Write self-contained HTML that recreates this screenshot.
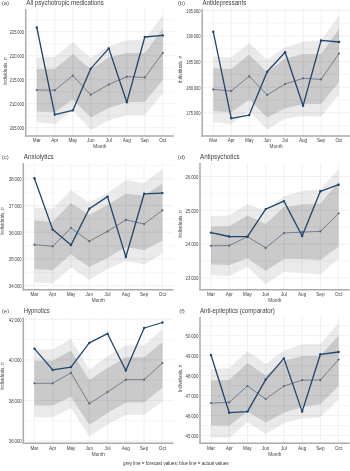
<!DOCTYPE html>
<html><head><meta charset="utf-8"><style>
html,body{margin:0;padding:0;background:#fff;}
body{width:350px;height:471px;overflow:hidden;}
svg{display:block;will-change:transform;filter:blur(0.3px);}
text{font-family:"Liberation Sans", sans-serif;}
.tk{font-size:4.6px;fill:#3d3d3d;}
.ax{font-size:4.7px;fill:#3d3d3d;}
.tag{font-size:6px;fill:#505050;}
.ttl{font-size:6.4px;fill:#404040;}
.cap{font-size:4.7px;fill:#333;}
</style></head><body>
<svg width="350" height="471" viewBox="0 0 350 471">
<rect width="350" height="471" fill="#fff"/>
<line x1="25.7" y1="19.7" x2="174" y2="19.7" stroke="#ececec" stroke-width="0.5"/>
<line x1="25.7" y1="43.7" x2="174" y2="43.7" stroke="#ececec" stroke-width="0.5"/>
<line x1="25.7" y1="67.7" x2="174" y2="67.7" stroke="#ececec" stroke-width="0.5"/>
<line x1="25.7" y1="91.7" x2="174" y2="91.7" stroke="#ececec" stroke-width="0.5"/>
<line x1="25.7" y1="115.7" x2="174" y2="115.7" stroke="#ececec" stroke-width="0.5"/>
<line x1="25.7" y1="31.7" x2="174" y2="31.7" stroke="#ececec" stroke-width="0.8"/>
<line x1="25.7" y1="55.7" x2="174" y2="55.7" stroke="#ececec" stroke-width="0.8"/>
<line x1="25.7" y1="79.7" x2="174" y2="79.7" stroke="#ececec" stroke-width="0.8"/>
<line x1="25.7" y1="103.7" x2="174" y2="103.7" stroke="#ececec" stroke-width="0.8"/>
<line x1="25.7" y1="127.7" x2="174" y2="127.7" stroke="#ececec" stroke-width="0.8"/>
<line x1="36.8" y1="9" x2="36.8" y2="136.1" stroke="#ececec" stroke-width="0.8"/>
<line x1="54.8" y1="9" x2="54.8" y2="136.1" stroke="#ececec" stroke-width="0.8"/>
<line x1="72.8" y1="9" x2="72.8" y2="136.1" stroke="#ececec" stroke-width="0.8"/>
<line x1="90.8" y1="9" x2="90.8" y2="136.1" stroke="#ececec" stroke-width="0.8"/>
<line x1="108.8" y1="9" x2="108.8" y2="136.1" stroke="#ececec" stroke-width="0.8"/>
<line x1="126.8" y1="9" x2="126.8" y2="136.1" stroke="#ececec" stroke-width="0.8"/>
<line x1="144.8" y1="9" x2="144.8" y2="136.1" stroke="#ececec" stroke-width="0.8"/>
<line x1="162.8" y1="9" x2="162.8" y2="136.1" stroke="#ececec" stroke-width="0.8"/>
<polygon points="36.8,57.5 54.8,56.9 72.8,41.9 90.8,58 108.8,46 126.8,40.4 144.8,39.3 162.8,15.3 162.8,93.5 144.8,114.9 126.8,114.9 108.8,120.4 90.8,129.8 72.8,110.5 54.8,124.3 36.8,122" fill="#000" fill-opacity="0.0824"/>
<polygon points="36.8,69 54.8,69 72.8,53.9 90.8,69.4 108.8,57.6 126.8,53 144.8,53 162.8,28.8 162.8,80 144.8,101.8 126.8,102.3 108.8,108 90.8,117.4 72.8,99.6 54.8,112.5 36.8,111.4" fill="#000" fill-opacity="0.1368"/>
<polyline points="36.8,90 54.8,90.2 72.8,75.6 90.8,94.7 108.8,84.5 126.8,76.7 144.8,77.4 162.8,53" fill="none" stroke="#56667a" stroke-width="0.75"/>
<circle cx="36.8" cy="90" r="1.1" fill="#56667a"/>
<circle cx="54.8" cy="90.2" r="1.1" fill="#56667a"/>
<circle cx="72.8" cy="75.6" r="1.1" fill="#56667a"/>
<circle cx="90.8" cy="94.7" r="1.1" fill="#56667a"/>
<circle cx="108.8" cy="84.5" r="1.1" fill="#56667a"/>
<circle cx="126.8" cy="76.7" r="1.1" fill="#56667a"/>
<circle cx="144.8" cy="77.4" r="1.1" fill="#56667a"/>
<circle cx="162.8" cy="53" r="1.1" fill="#56667a"/>
<polyline points="36.8,27.5 54.8,114.6 72.8,110.4 90.8,68.6 108.8,48.4 126.8,102.3 144.8,37 162.8,35.4" fill="none" stroke="#1e466c" stroke-width="1.3" stroke-linejoin="round"/>
<circle cx="36.8" cy="27.5" r="1.2" fill="#1e466c"/>
<circle cx="54.8" cy="114.6" r="1.2" fill="#1e466c"/>
<circle cx="72.8" cy="110.4" r="1.2" fill="#1e466c"/>
<circle cx="90.8" cy="68.6" r="1.2" fill="#1e466c"/>
<circle cx="108.8" cy="48.4" r="1.2" fill="#1e466c"/>
<circle cx="126.8" cy="102.3" r="1.2" fill="#1e466c"/>
<circle cx="144.8" cy="37" r="1.2" fill="#1e466c"/>
<circle cx="162.8" cy="35.4" r="1.2" fill="#1e466c"/>
<line x1="25.7" y1="9" x2="25.7" y2="136.7" stroke="#aaaaaa" stroke-width="1.5"/>
<line x1="25.1" y1="136.1" x2="174" y2="136.1" stroke="#aaaaaa" stroke-width="1.5"/>
<text x="24.1" y="34.15" text-anchor="end" class="tk" textLength="14.4" lengthAdjust="spacingAndGlyphs">225 000</text>
<text x="24.1" y="58.15" text-anchor="end" class="tk" textLength="14.4" lengthAdjust="spacingAndGlyphs">220 000</text>
<text x="24.1" y="82.15" text-anchor="end" class="tk" textLength="14.4" lengthAdjust="spacingAndGlyphs">215 000</text>
<text x="24.1" y="106.15" text-anchor="end" class="tk" textLength="14.4" lengthAdjust="spacingAndGlyphs">210 000</text>
<text x="24.1" y="130.15" text-anchor="end" class="tk" textLength="14.4" lengthAdjust="spacingAndGlyphs">205 000</text>
<text x="36.8" y="142.1" text-anchor="middle" class="tk">Mar</text>
<text x="54.8" y="142.1" text-anchor="middle" class="tk">Apr</text>
<text x="72.8" y="142.1" text-anchor="middle" class="tk">May</text>
<text x="90.8" y="142.1" text-anchor="middle" class="tk">Jun</text>
<text x="108.8" y="142.1" text-anchor="middle" class="tk">Jul</text>
<text x="126.8" y="142.1" text-anchor="middle" class="tk">Aug</text>
<text x="144.8" y="142.1" text-anchor="middle" class="tk">Sep</text>
<text x="162.8" y="142.1" text-anchor="middle" class="tk">Oct</text>
<text x="99.85" y="148.4" text-anchor="middle" class="ax">Month</text>
<text transform="translate(6.9,71) rotate(-90)" text-anchor="middle" class="ax">Individuals, <tspan font-style="italic">n</tspan></text>
<text x="1.7" y="5.2" class="tag">(a)</text>
<text x="26.3" y="5.2" class="ttl" textLength="77.5" lengthAdjust="spacingAndGlyphs">All psychotropic medications</text>
<line x1="202.2" y1="23.2" x2="350" y2="23.2" stroke="#ececec" stroke-width="0.5"/>
<line x1="202.2" y1="48.8" x2="350" y2="48.8" stroke="#ececec" stroke-width="0.5"/>
<line x1="202.2" y1="74.4" x2="350" y2="74.4" stroke="#ececec" stroke-width="0.5"/>
<line x1="202.2" y1="100" x2="350" y2="100" stroke="#ececec" stroke-width="0.5"/>
<line x1="202.2" y1="125.6" x2="350" y2="125.6" stroke="#ececec" stroke-width="0.5"/>
<line x1="202.2" y1="10.4" x2="350" y2="10.4" stroke="#ececec" stroke-width="0.8"/>
<line x1="202.2" y1="36" x2="350" y2="36" stroke="#ececec" stroke-width="0.8"/>
<line x1="202.2" y1="61.6" x2="350" y2="61.6" stroke="#ececec" stroke-width="0.8"/>
<line x1="202.2" y1="87.2" x2="350" y2="87.2" stroke="#ececec" stroke-width="0.8"/>
<line x1="202.2" y1="112.8" x2="350" y2="112.8" stroke="#ececec" stroke-width="0.8"/>
<line x1="213.3" y1="9" x2="213.3" y2="136.1" stroke="#ececec" stroke-width="0.8"/>
<line x1="231.26" y1="9" x2="231.26" y2="136.1" stroke="#ececec" stroke-width="0.8"/>
<line x1="249.22" y1="9" x2="249.22" y2="136.1" stroke="#ececec" stroke-width="0.8"/>
<line x1="267.18" y1="9" x2="267.18" y2="136.1" stroke="#ececec" stroke-width="0.8"/>
<line x1="285.14" y1="9" x2="285.14" y2="136.1" stroke="#ececec" stroke-width="0.8"/>
<line x1="303.1" y1="9" x2="303.1" y2="136.1" stroke="#ececec" stroke-width="0.8"/>
<line x1="321.06" y1="9" x2="321.06" y2="136.1" stroke="#ececec" stroke-width="0.8"/>
<line x1="339.02" y1="9" x2="339.02" y2="136.1" stroke="#ececec" stroke-width="0.8"/>
<polygon points="213.3,56.4 231.26,57.5 249.22,43.1 267.18,59.6 285.14,47.5 303.1,41.6 321.06,40.4 339.02,15.3 339.02,94.5 321.06,116.5 303.1,116.2 285.14,118.8 267.18,129.6 249.22,111 231.26,124.3 213.3,122" fill="#000" fill-opacity="0.0824"/>
<polygon points="213.3,68.2 231.26,68.9 249.22,54.4 267.18,72.4 285.14,58.5 303.1,54.1 321.06,54.1 339.02,29 339.02,82 321.06,104 303.1,104.3 285.14,108.3 267.18,117.4 249.22,99.4 231.26,112.5 213.3,111" fill="#000" fill-opacity="0.1368"/>
<polyline points="213.3,89.4 231.26,91 249.22,76.3 267.18,94.9 285.14,84 303.1,78.3 321.06,79.4 339.02,53.5" fill="none" stroke="#56667a" stroke-width="0.75"/>
<circle cx="213.3" cy="89.4" r="1.1" fill="#56667a"/>
<circle cx="231.26" cy="91" r="1.1" fill="#56667a"/>
<circle cx="249.22" cy="76.3" r="1.1" fill="#56667a"/>
<circle cx="267.18" cy="94.9" r="1.1" fill="#56667a"/>
<circle cx="285.14" cy="84" r="1.1" fill="#56667a"/>
<circle cx="303.1" cy="78.3" r="1.1" fill="#56667a"/>
<circle cx="321.06" cy="79.4" r="1.1" fill="#56667a"/>
<circle cx="339.02" cy="53.5" r="1.1" fill="#56667a"/>
<polyline points="213.3,31.8 231.26,118.3 249.22,115.1 267.18,71.8 285.14,52.3 303.1,105.7 321.06,40.4 339.02,42" fill="none" stroke="#1e466c" stroke-width="1.3" stroke-linejoin="round"/>
<circle cx="213.3" cy="31.8" r="1.2" fill="#1e466c"/>
<circle cx="231.26" cy="118.3" r="1.2" fill="#1e466c"/>
<circle cx="249.22" cy="115.1" r="1.2" fill="#1e466c"/>
<circle cx="267.18" cy="71.8" r="1.2" fill="#1e466c"/>
<circle cx="285.14" cy="52.3" r="1.2" fill="#1e466c"/>
<circle cx="303.1" cy="105.7" r="1.2" fill="#1e466c"/>
<circle cx="321.06" cy="40.4" r="1.2" fill="#1e466c"/>
<circle cx="339.02" cy="42" r="1.2" fill="#1e466c"/>
<line x1="202.2" y1="9" x2="202.2" y2="136.7" stroke="#aaaaaa" stroke-width="1.5"/>
<line x1="201.6" y1="136.1" x2="350" y2="136.1" stroke="#aaaaaa" stroke-width="1.5"/>
<text x="200.6" y="12.85" text-anchor="end" class="tk" textLength="14.4" lengthAdjust="spacingAndGlyphs">195 000</text>
<text x="200.6" y="38.45" text-anchor="end" class="tk" textLength="14.4" lengthAdjust="spacingAndGlyphs">190 000</text>
<text x="200.6" y="64.05" text-anchor="end" class="tk" textLength="14.4" lengthAdjust="spacingAndGlyphs">185 000</text>
<text x="200.6" y="89.65" text-anchor="end" class="tk" textLength="14.4" lengthAdjust="spacingAndGlyphs">180 000</text>
<text x="200.6" y="115.25" text-anchor="end" class="tk" textLength="14.4" lengthAdjust="spacingAndGlyphs">175 000</text>
<text x="213.3" y="142.1" text-anchor="middle" class="tk">Mar</text>
<text x="231.26" y="142.1" text-anchor="middle" class="tk">Apr</text>
<text x="249.22" y="142.1" text-anchor="middle" class="tk">May</text>
<text x="267.18" y="142.1" text-anchor="middle" class="tk">Jun</text>
<text x="285.14" y="142.1" text-anchor="middle" class="tk">Jul</text>
<text x="303.1" y="142.1" text-anchor="middle" class="tk">Aug</text>
<text x="321.06" y="142.1" text-anchor="middle" class="tk">Sep</text>
<text x="339.02" y="142.1" text-anchor="middle" class="tk">Oct</text>
<text x="276.1" y="148.4" text-anchor="middle" class="ax">Month</text>
<text transform="translate(182.2,69.5) rotate(-90)" text-anchor="middle" class="ax">Individuals, <tspan font-style="italic">n</tspan></text>
<text x="177.7" y="5.2" class="tag">(b)</text>
<text x="202.4" y="5.2" class="ttl" textLength="43.9" lengthAdjust="spacingAndGlyphs">Antidepressants</text>
<line x1="23.3" y1="165.45" x2="173.4" y2="165.45" stroke="#ececec" stroke-width="0.5"/>
<line x1="23.3" y1="192.15" x2="173.4" y2="192.15" stroke="#ececec" stroke-width="0.5"/>
<line x1="23.3" y1="218.85" x2="173.4" y2="218.85" stroke="#ececec" stroke-width="0.5"/>
<line x1="23.3" y1="245.55" x2="173.4" y2="245.55" stroke="#ececec" stroke-width="0.5"/>
<line x1="23.3" y1="272.25" x2="173.4" y2="272.25" stroke="#ececec" stroke-width="0.5"/>
<line x1="23.3" y1="178.8" x2="173.4" y2="178.8" stroke="#ececec" stroke-width="0.8"/>
<line x1="23.3" y1="205.5" x2="173.4" y2="205.5" stroke="#ececec" stroke-width="0.8"/>
<line x1="23.3" y1="232.2" x2="173.4" y2="232.2" stroke="#ececec" stroke-width="0.8"/>
<line x1="23.3" y1="258.9" x2="173.4" y2="258.9" stroke="#ececec" stroke-width="0.8"/>
<line x1="23.3" y1="285.6" x2="173.4" y2="285.6" stroke="#ececec" stroke-width="0.8"/>
<line x1="34.4" y1="163.1" x2="34.4" y2="289.8" stroke="#ececec" stroke-width="0.8"/>
<line x1="52.69" y1="163.1" x2="52.69" y2="289.8" stroke="#ececec" stroke-width="0.8"/>
<line x1="70.98" y1="163.1" x2="70.98" y2="289.8" stroke="#ececec" stroke-width="0.8"/>
<line x1="89.27" y1="163.1" x2="89.27" y2="289.8" stroke="#ececec" stroke-width="0.8"/>
<line x1="107.56" y1="163.1" x2="107.56" y2="289.8" stroke="#ececec" stroke-width="0.8"/>
<line x1="125.85" y1="163.1" x2="125.85" y2="289.8" stroke="#ececec" stroke-width="0.8"/>
<line x1="144.14" y1="163.1" x2="144.14" y2="289.8" stroke="#ececec" stroke-width="0.8"/>
<line x1="162.43" y1="163.1" x2="162.43" y2="289.8" stroke="#ececec" stroke-width="0.8"/>
<polygon points="34.4,207.5 52.69,208.5 70.98,190.2 89.27,202.6 107.56,193 125.85,180.1 144.14,182.9 162.43,169.1 162.43,253.5 144.14,264.6 125.85,261.1 107.56,269.1 89.27,279.9 70.98,267.5 52.69,283.5 34.4,282.2" fill="#000" fill-opacity="0.0824"/>
<polygon points="34.4,220.6 52.69,221.7 70.98,203 89.27,215 107.56,205 125.85,193.8 144.14,195.4 162.43,183.4 162.43,240.5 144.14,250.2 125.85,247 107.56,257.7 89.27,266.9 70.98,254.3 52.69,270.3 34.4,269.1" fill="#000" fill-opacity="0.1368"/>
<polyline points="34.4,244.7 52.69,246.3 70.98,228 89.27,241.3 107.56,231.4 125.85,219.9 144.14,224 162.43,210.3" fill="none" stroke="#56667a" stroke-width="0.75"/>
<circle cx="34.4" cy="244.7" r="1.1" fill="#56667a"/>
<circle cx="52.69" cy="246.3" r="1.1" fill="#56667a"/>
<circle cx="70.98" cy="228" r="1.1" fill="#56667a"/>
<circle cx="89.27" cy="241.3" r="1.1" fill="#56667a"/>
<circle cx="107.56" cy="231.4" r="1.1" fill="#56667a"/>
<circle cx="125.85" cy="219.9" r="1.1" fill="#56667a"/>
<circle cx="144.14" cy="224" r="1.1" fill="#56667a"/>
<circle cx="162.43" cy="210.3" r="1.1" fill="#56667a"/>
<polyline points="34.4,178.3 52.69,229.6 70.98,245.1 89.27,208.7 107.56,196.6 125.85,257 144.14,193.8 162.43,193.1" fill="none" stroke="#1e466c" stroke-width="1.3" stroke-linejoin="round"/>
<circle cx="34.4" cy="178.3" r="1.2" fill="#1e466c"/>
<circle cx="52.69" cy="229.6" r="1.2" fill="#1e466c"/>
<circle cx="70.98" cy="245.1" r="1.2" fill="#1e466c"/>
<circle cx="89.27" cy="208.7" r="1.2" fill="#1e466c"/>
<circle cx="107.56" cy="196.6" r="1.2" fill="#1e466c"/>
<circle cx="125.85" cy="257" r="1.2" fill="#1e466c"/>
<circle cx="144.14" cy="193.8" r="1.2" fill="#1e466c"/>
<circle cx="162.43" cy="193.1" r="1.2" fill="#1e466c"/>
<line x1="23.3" y1="163.1" x2="23.3" y2="290.4" stroke="#aaaaaa" stroke-width="1.5"/>
<line x1="22.7" y1="289.8" x2="173.4" y2="289.8" stroke="#aaaaaa" stroke-width="1.5"/>
<text x="21.7" y="181.25" text-anchor="end" class="tk" textLength="12.9" lengthAdjust="spacingAndGlyphs">38 000</text>
<text x="21.7" y="207.95" text-anchor="end" class="tk" textLength="12.9" lengthAdjust="spacingAndGlyphs">37 000</text>
<text x="21.7" y="234.65" text-anchor="end" class="tk" textLength="12.9" lengthAdjust="spacingAndGlyphs">36 000</text>
<text x="21.7" y="261.35" text-anchor="end" class="tk" textLength="12.9" lengthAdjust="spacingAndGlyphs">35 000</text>
<text x="21.7" y="288.05" text-anchor="end" class="tk" textLength="12.9" lengthAdjust="spacingAndGlyphs">34 000</text>
<text x="34.4" y="295.8" text-anchor="middle" class="tk">Mar</text>
<text x="52.69" y="295.8" text-anchor="middle" class="tk">Apr</text>
<text x="70.98" y="295.8" text-anchor="middle" class="tk">May</text>
<text x="89.27" y="295.8" text-anchor="middle" class="tk">Jun</text>
<text x="107.56" y="295.8" text-anchor="middle" class="tk">Jul</text>
<text x="125.85" y="295.8" text-anchor="middle" class="tk">Aug</text>
<text x="144.14" y="295.8" text-anchor="middle" class="tk">Sep</text>
<text x="162.43" y="295.8" text-anchor="middle" class="tk">Oct</text>
<text x="98.35" y="302.1" text-anchor="middle" class="ax">Month</text>
<text transform="translate(4.4,221) rotate(-90)" text-anchor="middle" class="ax">Individuals, <tspan font-style="italic">n</tspan></text>
<text x="1.8" y="159.2" class="tag">(c)</text>
<text x="23.8" y="159.2" class="ttl" textLength="30.0" lengthAdjust="spacingAndGlyphs">Anxiolytics</text>
<line x1="200" y1="193.4" x2="349.6" y2="193.4" stroke="#ececec" stroke-width="0.5"/>
<line x1="200" y1="227.2" x2="349.6" y2="227.2" stroke="#ececec" stroke-width="0.5"/>
<line x1="200" y1="260.9" x2="349.6" y2="260.9" stroke="#ececec" stroke-width="0.5"/>
<line x1="200" y1="176.5" x2="349.6" y2="176.5" stroke="#ececec" stroke-width="0.8"/>
<line x1="200" y1="210.3" x2="349.6" y2="210.3" stroke="#ececec" stroke-width="0.8"/>
<line x1="200" y1="244" x2="349.6" y2="244" stroke="#ececec" stroke-width="0.8"/>
<line x1="200" y1="277.8" x2="349.6" y2="277.8" stroke="#ececec" stroke-width="0.8"/>
<line x1="211" y1="163.1" x2="211" y2="289.8" stroke="#ececec" stroke-width="0.8"/>
<line x1="229.23" y1="163.1" x2="229.23" y2="289.8" stroke="#ececec" stroke-width="0.8"/>
<line x1="247.46" y1="163.1" x2="247.46" y2="289.8" stroke="#ececec" stroke-width="0.8"/>
<line x1="265.69" y1="163.1" x2="265.69" y2="289.8" stroke="#ececec" stroke-width="0.8"/>
<line x1="283.92" y1="163.1" x2="283.92" y2="289.8" stroke="#ececec" stroke-width="0.8"/>
<line x1="302.15" y1="163.1" x2="302.15" y2="289.8" stroke="#ececec" stroke-width="0.8"/>
<line x1="320.38" y1="163.1" x2="320.38" y2="289.8" stroke="#ececec" stroke-width="0.8"/>
<line x1="338.61" y1="163.1" x2="338.61" y2="289.8" stroke="#ececec" stroke-width="0.8"/>
<polygon points="211,216 229.23,215.5 247.46,204.1 265.69,211 283.92,196.1 302.15,190.9 320.38,189.3 338.61,169.1 338.61,258.5 320.38,274.4 302.15,273 283.92,272.1 265.69,284 247.46,266.9 229.23,276 211,275.3" fill="#000" fill-opacity="0.0824"/>
<polygon points="211,226.4 229.23,226.3 247.46,215.5 265.69,224 283.92,206.9 302.15,204.6 320.38,203.4 338.61,181.7 338.61,246.5 320.38,260 302.15,258.9 283.92,258.9 265.69,270.7 247.46,258.2 229.23,265 211,264.6" fill="#000" fill-opacity="0.1368"/>
<polyline points="211,245.8 229.23,245.6 247.46,236.7 265.69,247.9 283.92,233 302.15,232.1 320.38,231.4 338.61,213.3" fill="none" stroke="#56667a" stroke-width="0.75"/>
<circle cx="211" cy="245.8" r="1.1" fill="#56667a"/>
<circle cx="229.23" cy="245.6" r="1.1" fill="#56667a"/>
<circle cx="247.46" cy="236.7" r="1.1" fill="#56667a"/>
<circle cx="265.69" cy="247.9" r="1.1" fill="#56667a"/>
<circle cx="283.92" cy="233" r="1.1" fill="#56667a"/>
<circle cx="302.15" cy="232.1" r="1.1" fill="#56667a"/>
<circle cx="320.38" cy="231.4" r="1.1" fill="#56667a"/>
<circle cx="338.61" cy="213.3" r="1.1" fill="#56667a"/>
<polyline points="211,232.6 229.23,236.5 247.46,236.7 265.69,209.1 283.92,201.1 302.15,236 320.38,191.3 338.61,184.7" fill="none" stroke="#1e466c" stroke-width="1.3" stroke-linejoin="round"/>
<circle cx="211" cy="232.6" r="1.2" fill="#1e466c"/>
<circle cx="229.23" cy="236.5" r="1.2" fill="#1e466c"/>
<circle cx="247.46" cy="236.7" r="1.2" fill="#1e466c"/>
<circle cx="265.69" cy="209.1" r="1.2" fill="#1e466c"/>
<circle cx="283.92" cy="201.1" r="1.2" fill="#1e466c"/>
<circle cx="302.15" cy="236" r="1.2" fill="#1e466c"/>
<circle cx="320.38" cy="191.3" r="1.2" fill="#1e466c"/>
<circle cx="338.61" cy="184.7" r="1.2" fill="#1e466c"/>
<line x1="200" y1="163.1" x2="200" y2="290.4" stroke="#aaaaaa" stroke-width="1.5"/>
<line x1="199.4" y1="289.8" x2="349.6" y2="289.8" stroke="#aaaaaa" stroke-width="1.5"/>
<text x="198.4" y="178.95" text-anchor="end" class="tk" textLength="12.9" lengthAdjust="spacingAndGlyphs">26 000</text>
<text x="198.4" y="212.75" text-anchor="end" class="tk" textLength="12.9" lengthAdjust="spacingAndGlyphs">25 000</text>
<text x="198.4" y="246.45" text-anchor="end" class="tk" textLength="12.9" lengthAdjust="spacingAndGlyphs">24 000</text>
<text x="198.4" y="280.25" text-anchor="end" class="tk" textLength="12.9" lengthAdjust="spacingAndGlyphs">23 000</text>
<text x="211" y="295.8" text-anchor="middle" class="tk">Mar</text>
<text x="229.23" y="295.8" text-anchor="middle" class="tk">Apr</text>
<text x="247.46" y="295.8" text-anchor="middle" class="tk">May</text>
<text x="265.69" y="295.8" text-anchor="middle" class="tk">Jun</text>
<text x="283.92" y="295.8" text-anchor="middle" class="tk">Jul</text>
<text x="302.15" y="295.8" text-anchor="middle" class="tk">Aug</text>
<text x="320.38" y="295.8" text-anchor="middle" class="tk">Sep</text>
<text x="338.61" y="295.8" text-anchor="middle" class="tk">Oct</text>
<text x="274.8" y="302.1" text-anchor="middle" class="ax">Month</text>
<text transform="translate(181.7,224) rotate(-90)" text-anchor="middle" class="ax">Individuals, <tspan font-style="italic">n</tspan></text>
<text x="177.7" y="159.2" class="tag">(d)</text>
<text x="200" y="159.2" class="ttl" textLength="39.6" lengthAdjust="spacingAndGlyphs">Antipsychotics</text>
<line x1="23.3" y1="339.5" x2="173.4" y2="339.5" stroke="#ececec" stroke-width="0.5"/>
<line x1="23.3" y1="380.1" x2="173.4" y2="380.1" stroke="#ececec" stroke-width="0.5"/>
<line x1="23.3" y1="420.7" x2="173.4" y2="420.7" stroke="#ececec" stroke-width="0.5"/>
<line x1="23.3" y1="319.2" x2="173.4" y2="319.2" stroke="#ececec" stroke-width="0.8"/>
<line x1="23.3" y1="359.8" x2="173.4" y2="359.8" stroke="#ececec" stroke-width="0.8"/>
<line x1="23.3" y1="400.4" x2="173.4" y2="400.4" stroke="#ececec" stroke-width="0.8"/>
<line x1="23.3" y1="441" x2="173.4" y2="441" stroke="#ececec" stroke-width="0.8"/>
<line x1="34.4" y1="317.6" x2="34.4" y2="443.35" stroke="#ececec" stroke-width="0.8"/>
<line x1="52.69" y1="317.6" x2="52.69" y2="443.35" stroke="#ececec" stroke-width="0.8"/>
<line x1="70.98" y1="317.6" x2="70.98" y2="443.35" stroke="#ececec" stroke-width="0.8"/>
<line x1="89.27" y1="317.6" x2="89.27" y2="443.35" stroke="#ececec" stroke-width="0.8"/>
<line x1="107.56" y1="317.6" x2="107.56" y2="443.35" stroke="#ececec" stroke-width="0.8"/>
<line x1="125.85" y1="317.6" x2="125.85" y2="443.35" stroke="#ececec" stroke-width="0.8"/>
<line x1="144.14" y1="317.6" x2="144.14" y2="443.35" stroke="#ececec" stroke-width="0.8"/>
<line x1="162.43" y1="317.6" x2="162.43" y2="443.35" stroke="#ececec" stroke-width="0.8"/>
<polygon points="34.4,349.3 52.69,349.3 70.98,339 89.27,369.4 107.56,356.1 125.85,345.2 144.14,345.2 162.43,328.7 162.43,401.5 144.14,415 125.85,415 107.56,424.5 89.27,436.7 70.98,408.1 52.69,417.3 34.4,417.3" fill="#000" fill-opacity="0.0824"/>
<polygon points="34.4,360.7 52.69,360.7 70.98,350.4 89.27,380.1 107.56,368 125.85,357.3 144.14,357.3 162.43,342 162.43,387.6 144.14,402.4 125.85,402.4 107.56,413 89.27,424.8 70.98,396.7 52.69,405.4 34.4,405.4" fill="#000" fill-opacity="0.1368"/>
<polyline points="34.4,383.3 52.69,383.3 70.98,372.8 89.27,403.6 107.56,392.1 125.85,379.7 144.14,379.7 162.43,363" fill="none" stroke="#56667a" stroke-width="0.75"/>
<circle cx="34.4" cy="383.3" r="1.1" fill="#56667a"/>
<circle cx="52.69" cy="383.3" r="1.1" fill="#56667a"/>
<circle cx="70.98" cy="372.8" r="1.1" fill="#56667a"/>
<circle cx="89.27" cy="403.6" r="1.1" fill="#56667a"/>
<circle cx="107.56" cy="392.1" r="1.1" fill="#56667a"/>
<circle cx="125.85" cy="379.7" r="1.1" fill="#56667a"/>
<circle cx="144.14" cy="379.7" r="1.1" fill="#56667a"/>
<circle cx="162.43" cy="363" r="1.1" fill="#56667a"/>
<polyline points="34.4,348.6 52.69,369.9 70.98,367.1 89.27,342.9 107.56,333.7 125.85,370.5 144.14,328 162.43,322.5" fill="none" stroke="#1e466c" stroke-width="1.3" stroke-linejoin="round"/>
<circle cx="34.4" cy="348.6" r="1.2" fill="#1e466c"/>
<circle cx="52.69" cy="369.9" r="1.2" fill="#1e466c"/>
<circle cx="70.98" cy="367.1" r="1.2" fill="#1e466c"/>
<circle cx="89.27" cy="342.9" r="1.2" fill="#1e466c"/>
<circle cx="107.56" cy="333.7" r="1.2" fill="#1e466c"/>
<circle cx="125.85" cy="370.5" r="1.2" fill="#1e466c"/>
<circle cx="144.14" cy="328" r="1.2" fill="#1e466c"/>
<circle cx="162.43" cy="322.5" r="1.2" fill="#1e466c"/>
<line x1="23.3" y1="317.6" x2="23.3" y2="443.95" stroke="#aaaaaa" stroke-width="1.5"/>
<line x1="22.7" y1="443.35" x2="173.4" y2="443.35" stroke="#aaaaaa" stroke-width="1.5"/>
<text x="21.7" y="321.65" text-anchor="end" class="tk" textLength="12.9" lengthAdjust="spacingAndGlyphs">42 000</text>
<text x="21.7" y="362.25" text-anchor="end" class="tk" textLength="12.9" lengthAdjust="spacingAndGlyphs">40 000</text>
<text x="21.7" y="402.85" text-anchor="end" class="tk" textLength="12.9" lengthAdjust="spacingAndGlyphs">38 000</text>
<text x="21.7" y="443.45" text-anchor="end" class="tk" textLength="12.9" lengthAdjust="spacingAndGlyphs">36 000</text>
<text x="34.4" y="450.25" text-anchor="middle" class="tk">Mar</text>
<text x="52.69" y="450.25" text-anchor="middle" class="tk">Apr</text>
<text x="70.98" y="450.25" text-anchor="middle" class="tk">May</text>
<text x="89.27" y="450.25" text-anchor="middle" class="tk">Jun</text>
<text x="107.56" y="450.25" text-anchor="middle" class="tk">Jul</text>
<text x="125.85" y="450.25" text-anchor="middle" class="tk">Aug</text>
<text x="144.14" y="450.25" text-anchor="middle" class="tk">Sep</text>
<text x="162.43" y="450.25" text-anchor="middle" class="tk">Oct</text>
<text x="98.35" y="455.65" text-anchor="middle" class="ax">Month</text>
<text transform="translate(4.3,376) rotate(-90)" text-anchor="middle" class="ax">Individuals, <tspan font-style="italic">n</tspan></text>
<text x="1.8" y="313.4" class="tag">(e)</text>
<text x="23.8" y="313.4" class="ttl" textLength="25.9" lengthAdjust="spacingAndGlyphs">Hypnotics</text>
<line x1="200" y1="325.6" x2="349.6" y2="325.6" stroke="#ececec" stroke-width="0.5"/>
<line x1="200" y1="345.6" x2="349.6" y2="345.6" stroke="#ececec" stroke-width="0.5"/>
<line x1="200" y1="365.6" x2="349.6" y2="365.6" stroke="#ececec" stroke-width="0.5"/>
<line x1="200" y1="385.6" x2="349.6" y2="385.6" stroke="#ececec" stroke-width="0.5"/>
<line x1="200" y1="405.6" x2="349.6" y2="405.6" stroke="#ececec" stroke-width="0.5"/>
<line x1="200" y1="425.6" x2="349.6" y2="425.6" stroke="#ececec" stroke-width="0.5"/>
<line x1="200" y1="335.6" x2="349.6" y2="335.6" stroke="#ececec" stroke-width="0.8"/>
<line x1="200" y1="355.6" x2="349.6" y2="355.6" stroke="#ececec" stroke-width="0.8"/>
<line x1="200" y1="375.6" x2="349.6" y2="375.6" stroke="#ececec" stroke-width="0.8"/>
<line x1="200" y1="395.6" x2="349.6" y2="395.6" stroke="#ececec" stroke-width="0.8"/>
<line x1="200" y1="415.6" x2="349.6" y2="415.6" stroke="#ececec" stroke-width="0.8"/>
<line x1="200" y1="435.6" x2="349.6" y2="435.6" stroke="#ececec" stroke-width="0.8"/>
<line x1="211" y1="317" x2="211" y2="443.35" stroke="#ececec" stroke-width="0.8"/>
<line x1="229.23" y1="317" x2="229.23" y2="443.35" stroke="#ececec" stroke-width="0.8"/>
<line x1="247.46" y1="317" x2="247.46" y2="443.35" stroke="#ececec" stroke-width="0.8"/>
<line x1="265.69" y1="317" x2="265.69" y2="443.35" stroke="#ececec" stroke-width="0.8"/>
<line x1="283.92" y1="317" x2="283.92" y2="443.35" stroke="#ececec" stroke-width="0.8"/>
<line x1="302.15" y1="317" x2="302.15" y2="443.35" stroke="#ececec" stroke-width="0.8"/>
<line x1="320.38" y1="317" x2="320.38" y2="443.35" stroke="#ececec" stroke-width="0.8"/>
<line x1="338.61" y1="317" x2="338.61" y2="443.35" stroke="#ececec" stroke-width="0.8"/>
<polygon points="211,368.7 229.23,368.3 247.46,351.1 265.69,363.7 283.92,350.4 302.15,344.3 320.38,344.3 338.61,323 338.61,399.5 320.38,417.3 302.15,418.4 283.92,423 265.69,434 247.46,421.9 229.23,437.8 211,437.3" fill="#000" fill-opacity="0.0824"/>
<polygon points="211,380.6 229.23,380.1 247.46,363 265.69,375.6 283.92,360.7 302.15,356.1 320.38,355.7 338.61,335.6 338.61,386 320.38,404.3 302.15,407 283.92,412.7 265.69,422.5 247.46,411.6 229.23,425.7 211,425.3" fill="#000" fill-opacity="0.1368"/>
<polyline points="211,403.1 229.23,402.4 247.46,386 265.69,399 283.92,386 302.15,380.2 320.38,380 338.61,359.6" fill="none" stroke="#56667a" stroke-width="0.75"/>
<circle cx="211" cy="403.1" r="1.1" fill="#56667a"/>
<circle cx="229.23" cy="402.4" r="1.1" fill="#56667a"/>
<circle cx="247.46" cy="386" r="1.1" fill="#56667a"/>
<circle cx="265.69" cy="399" r="1.1" fill="#56667a"/>
<circle cx="283.92" cy="386" r="1.1" fill="#56667a"/>
<circle cx="302.15" cy="380.2" r="1.1" fill="#56667a"/>
<circle cx="320.38" cy="380" r="1.1" fill="#56667a"/>
<circle cx="338.61" cy="359.6" r="1.1" fill="#56667a"/>
<polyline points="211,355 229.23,412.7 247.46,411.6 265.69,379.6 283.92,358.4 302.15,411.6 320.38,354.3 338.61,352" fill="none" stroke="#1e466c" stroke-width="1.3" stroke-linejoin="round"/>
<circle cx="211" cy="355" r="1.2" fill="#1e466c"/>
<circle cx="229.23" cy="412.7" r="1.2" fill="#1e466c"/>
<circle cx="247.46" cy="411.6" r="1.2" fill="#1e466c"/>
<circle cx="265.69" cy="379.6" r="1.2" fill="#1e466c"/>
<circle cx="283.92" cy="358.4" r="1.2" fill="#1e466c"/>
<circle cx="302.15" cy="411.6" r="1.2" fill="#1e466c"/>
<circle cx="320.38" cy="354.3" r="1.2" fill="#1e466c"/>
<circle cx="338.61" cy="352" r="1.2" fill="#1e466c"/>
<line x1="200" y1="317" x2="200" y2="443.95" stroke="#aaaaaa" stroke-width="1.5"/>
<line x1="199.4" y1="443.35" x2="349.6" y2="443.35" stroke="#aaaaaa" stroke-width="1.5"/>
<text x="198.4" y="338.05" text-anchor="end" class="tk" textLength="12.9" lengthAdjust="spacingAndGlyphs">50 000</text>
<text x="198.4" y="358.05" text-anchor="end" class="tk" textLength="12.9" lengthAdjust="spacingAndGlyphs">49 000</text>
<text x="198.4" y="378.05" text-anchor="end" class="tk" textLength="12.9" lengthAdjust="spacingAndGlyphs">48 000</text>
<text x="198.4" y="398.05" text-anchor="end" class="tk" textLength="12.9" lengthAdjust="spacingAndGlyphs">47 000</text>
<text x="198.4" y="418.05" text-anchor="end" class="tk" textLength="12.9" lengthAdjust="spacingAndGlyphs">46 000</text>
<text x="198.4" y="438.05" text-anchor="end" class="tk" textLength="12.9" lengthAdjust="spacingAndGlyphs">45 000</text>
<text x="211" y="450.25" text-anchor="middle" class="tk">Mar</text>
<text x="229.23" y="450.25" text-anchor="middle" class="tk">Apr</text>
<text x="247.46" y="450.25" text-anchor="middle" class="tk">May</text>
<text x="265.69" y="450.25" text-anchor="middle" class="tk">Jun</text>
<text x="283.92" y="450.25" text-anchor="middle" class="tk">Jul</text>
<text x="302.15" y="450.25" text-anchor="middle" class="tk">Aug</text>
<text x="320.38" y="450.25" text-anchor="middle" class="tk">Sep</text>
<text x="338.61" y="450.25" text-anchor="middle" class="tk">Oct</text>
<text x="274.8" y="455.65" text-anchor="middle" class="ax">Month</text>
<text transform="translate(182,378.3) rotate(-90)" text-anchor="middle" class="ax">Individuals, <tspan font-style="italic">n</tspan></text>
<text x="179.2" y="313.4" class="tag">(f)</text>
<text x="200" y="313.4" class="ttl" textLength="74.7" lengthAdjust="spacingAndGlyphs">Anti-epileptics (comparator)</text>
<text x="123.1" y="464.5" class="cap" textLength="105.5" lengthAdjust="spacingAndGlyphs">grey line = forecast values; blue line = actual values</text>
</svg>
</body></html>
